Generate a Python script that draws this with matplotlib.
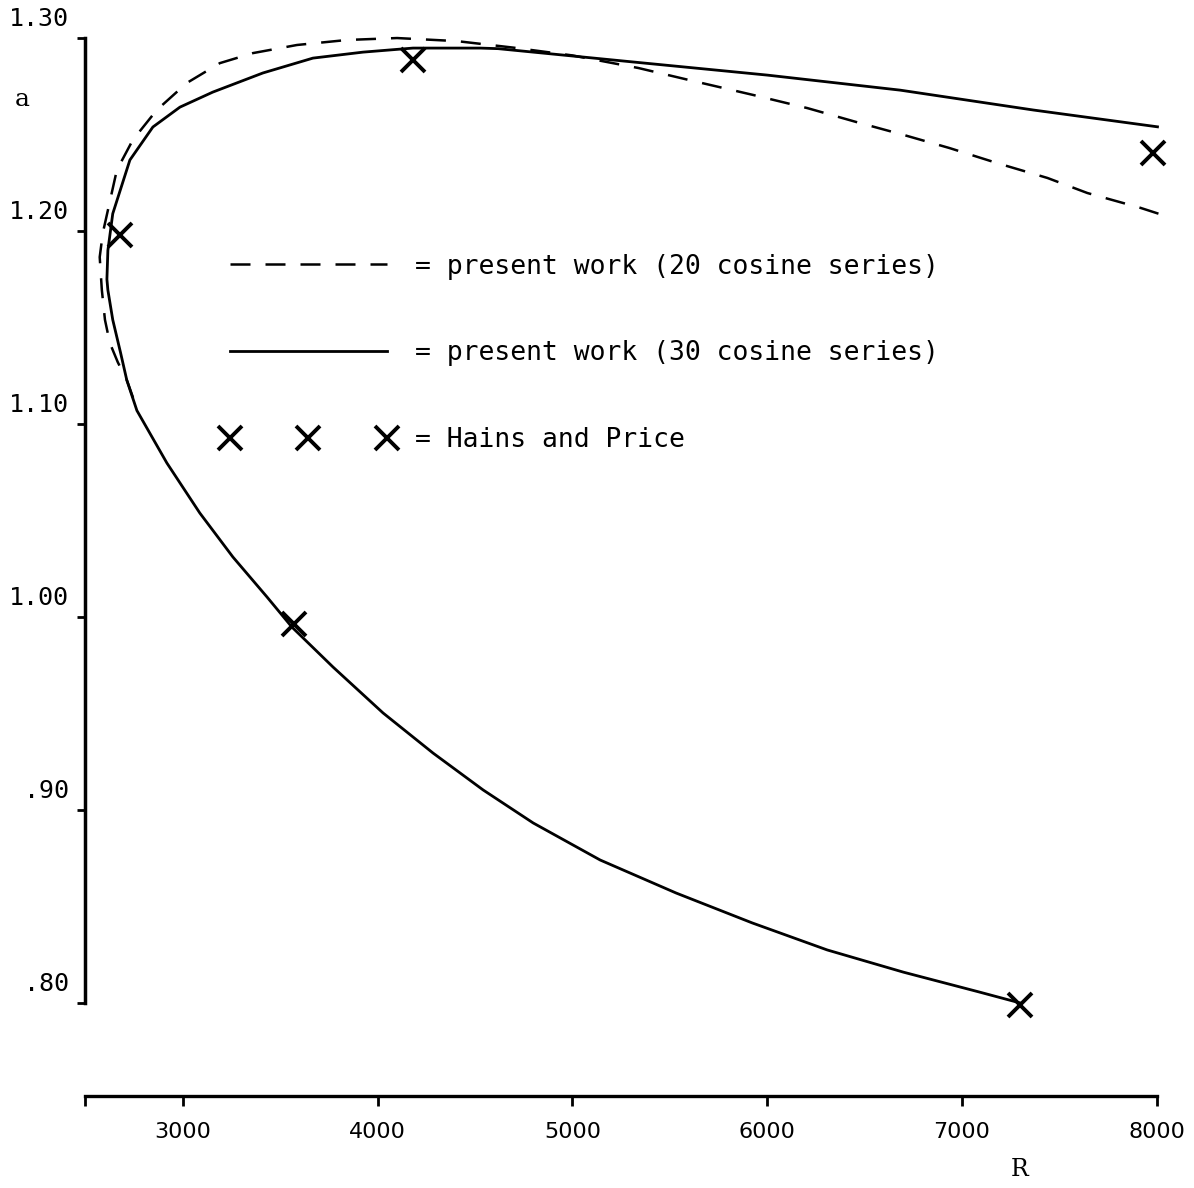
import matplotlib
matplotlib.use('Agg')
import matplotlib.pyplot as plt
import matplotlib.transforms as mtransforms

# ------------------------------------------------------------------ #
#            values (R, a)              #
# ------------------------------------------------------------------ #

# 30 cosine series (solid) - one path: upper branch right->left, round the nose, lower branch
R_30 = [8005, 7368, 6684, 6001, 5312, 4619, 4527, 4182, 3925, 3668, 3411, 3154, 2985, 2846,
        2728, 2640, 2615, 2610, 2615, 2640, 2680, 2712, 2764, 2918, 3087, 3257, 3432, 3560,
        3771, 4028, 4285, 4542, 4799, 5143, 5533, 5924, 6309, 6700, 7090, 7301]
a_30 = [1.254, 1.2627, 1.273, 1.2808, 1.2876, 1.2945, 1.2948, 1.2948, 1.2927, 1.2896, 1.2819,
        1.272, 1.2642, 1.2539, 1.2368, 1.209, 1.19, 1.175, 1.1694, 1.154, 1.137, 1.1228, 1.107,
        1.0798, 1.0539, 1.0311, 1.0104, 0.9948, 0.9741, 0.9503, 0.9295, 0.9104, 0.8933, 0.8741,
        0.857, 0.8415, 0.8275, 0.816, 0.8057, 0.800]

# 20 cosine series (dashed)
R_20 = [8010, 7918, 7645, 7440, 7188, 6937, 6705, 6458, 6207, 5929, 5610, 5338, 5000, 4700,
        4408, 4100, 3843, 3586, 3360, 3190, 3020, 2866, 2743, 2661, 2589, 2573, 2584, 2600,
        2625, 2666, 2712, 2764]
a_20 = [1.209, 1.212, 1.2197, 1.2275, 1.235, 1.243, 1.2497, 1.2565, 1.2637, 1.2705, 1.278,
        1.2845, 1.291, 1.295, 1.2984, 1.300, 1.299, 1.2964, 1.2922, 1.287, 1.2767, 1.2627,
        1.2472, 1.2316, 1.199, 1.1865, 1.1694, 1.154, 1.142, 1.132, 1.1228, 1.108]

# Hains and Price
R_hp = [2676, 4182, 7980, 3570, 7301]
a_hp = [1.198, 1.2886, 1.2404, 0.9965, 0.799]

yticks = [0.80, 0.90, 1.00, 1.10, 1.20, 1.30]
ylabels = ['.80', '.90', '1.00', '1.10', '1.20', '1.30']
xticks = [2500, 3000, 4000, 5000, 6000, 7000, 8000]
xlabels = ['', '3000', '4000', '5000', '6000', '7000', '8000']

# ------------------------------------------------------------------ #
#                              plot                                  #
# ------------------------------------------------------------------ #

fig = plt.figure(figsize=(11.94, 11.88), dpi=100)
ax = fig.add_axes([0.0716, 0.0774, 0.8970, 0.8987])

ax.plot(R_20, a_20, color='black', lw=1.8, linestyle=(0, (8, 6)), clip_on=False,
        label='= present work (20 cosine series)')
ax.plot(R_30, a_30, color='black', lw=2.0, clip_on=False,
        label='= present work (30 cosine series)')
ax.plot(R_hp, a_hp, linestyle='None', marker='x', color='black', ms=17, mew=2.8,
        clip_on=False, label='= Hains and Price')

ax.set_xlim(2500, 8000)
ax.set_ylim(0.7518, 1.305)

for s in ['top', 'right']:
    ax.spines[s].set_visible(False)
ax.spines['left'].set_bounds(0.80, 1.30)
ax.spines['left'].set_linewidth(2.5)
ax.spines['bottom'].set_linewidth(2.4)

ax.set_yticks(yticks)
ax.set_yticklabels(ylabels, fontsize=18, family='DejaVu Sans Mono')
ax.set_xticks(xticks)
ax.set_xticklabels(xlabels, fontsize=16, family='DejaVu Sans')
ax.tick_params(axis='y', direction='out', length=6, width=2, pad=6)
ax.tick_params(axis='x', direction='out', length=7, width=2, pad=12)

# y labels sit a little above their ticks
offset = mtransforms.ScaledTranslation(0, 0.22, fig.dpi_scale_trans)
for lbl in ax.get_yticklabels():
    lbl.set_transform(lbl.get_transform() + offset)

fig.text(15 / 1194, 1 - 100 / 1188, 'a', fontsize=18, family='DejaVu Serif', va='center')
fig.text(1020 / 1194, 1 - 1170 / 1188, 'R', fontsize=17, family='DejaVu Serif',
         va='center', ha='center')

ax.legend(loc='upper left', bbox_to_anchor=(0.1275, 0.789), frameon=False,
          prop={'family': 'DejaVu Sans Mono', 'size': 19}, borderpad=0,
          handlelength=6.55, handletextpad=0.76, labelspacing=2.3, numpoints=3,
          borderaxespad=0)

fig.savefig('out.png', dpi=100, facecolor='white')
plt.close()
